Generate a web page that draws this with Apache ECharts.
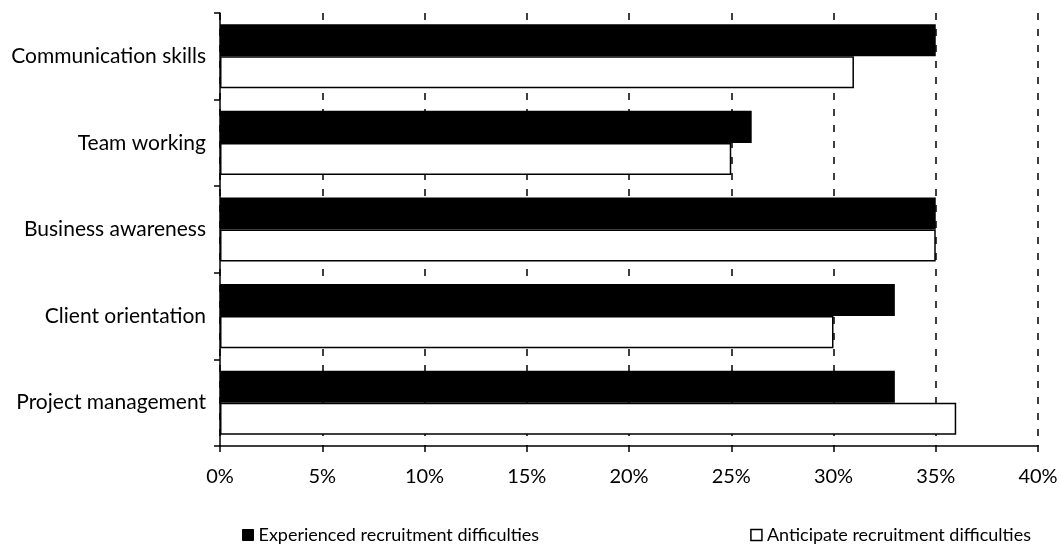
<!DOCTYPE html>
<html>
<head>
<meta charset="utf-8">
<script src="https://cdn.jsdelivr.net/npm/echarts@6/dist/echarts.min.js"></script>
<style>
  html, body { margin: 0; padding: 0; background: #fff; }
  #chart { width: 1061px; height: 549px; }
</style>
</head>
<body>
<div id="chart"></div>
<script>
// Skill areas, listed top to bottom
const categories = [
  'Communication skills',
  'Team working',
  'Business awareness',
  'Client orientation',
  'Project management'
];
// Share of firms (%) per skill area
const experienced = [35, 26, 35, 33, 33];
const anticipate = [31, 25, 35, 30, 36];
const seriesNames = ['Experienced recruitment difficulties', 'Anticipate recruitment difficulties'];

const FONT = 'Lato, "Open Sans", sans-serif';

const legendBase = {
  bottom: 0,
  icon: 'rect',
  itemWidth: 11,
  itemHeight: 11,
  itemGap: 0,
  textStyle: { fontFamily: FONT, fontSize: 18, color: '#000' }
};

const chart = echarts.init(document.getElementById('chart'), null, { renderer: 'canvas' });
chart.setOption({
  backgroundColor: '#ffffff',
  animation: false,
  textStyle: { fontFamily: FONT, color: '#000' },
  grid: { left: 220, right: 23, top: 13, bottom: 103, containLabel: false },
  legend: [
    Object.assign({}, legendBase, {
      left: 237,
      data: [{ name: seriesNames[0], itemStyle: { color: '#000', borderColor: '#000', borderWidth: 1 } }]
    }),
    Object.assign({}, legendBase, {
      right: 25,
      data: [{ name: seriesNames[1], itemStyle: { color: '#fff', borderColor: '#000', borderWidth: 1.5 } }]
    })
  ],
  xAxis: {
    type: 'value',
    min: 0,
    max: 40,
    interval: 5,
    axisLine: { show: true, lineStyle: { color: '#000', width: 1.5 } },
    axisTick: { show: true, length: 6, lineStyle: { color: '#000', width: 1.5 } },
    axisLabel: { formatter: '{value}%', fontFamily: FONT, fontSize: 20, color: '#000', margin: 21 },
    splitLine: { show: true, lineStyle: { color: '#000', type: [7, 9], width: 1.5 } }
  },
  yAxis: {
    type: 'category',
    data: categories,
    inverse: true,
    axisLine: { show: true, lineStyle: { color: '#000', width: 1.5 } },
    axisTick: { show: true, length: 6, alignWithLabel: false, lineStyle: { color: '#000', width: 1.5 } },
    axisLabel: { fontFamily: FONT, fontSize: 21, color: '#000', margin: 14 }
  },
  series: [
    {
      name: seriesNames[0],
      type: 'bar',
      data: experienced,
      barGap: '0%',
      barCategoryGap: '26%',
      itemStyle: { color: '#000' }
    },
    {
      name: seriesNames[1],
      type: 'bar',
      data: anticipate,
      barGap: '0%',
      barCategoryGap: '26%',
      itemStyle: { color: '#fff', borderColor: '#000', borderWidth: 1.5 }
    }
  ]
});
</script>
</body>
</html>
